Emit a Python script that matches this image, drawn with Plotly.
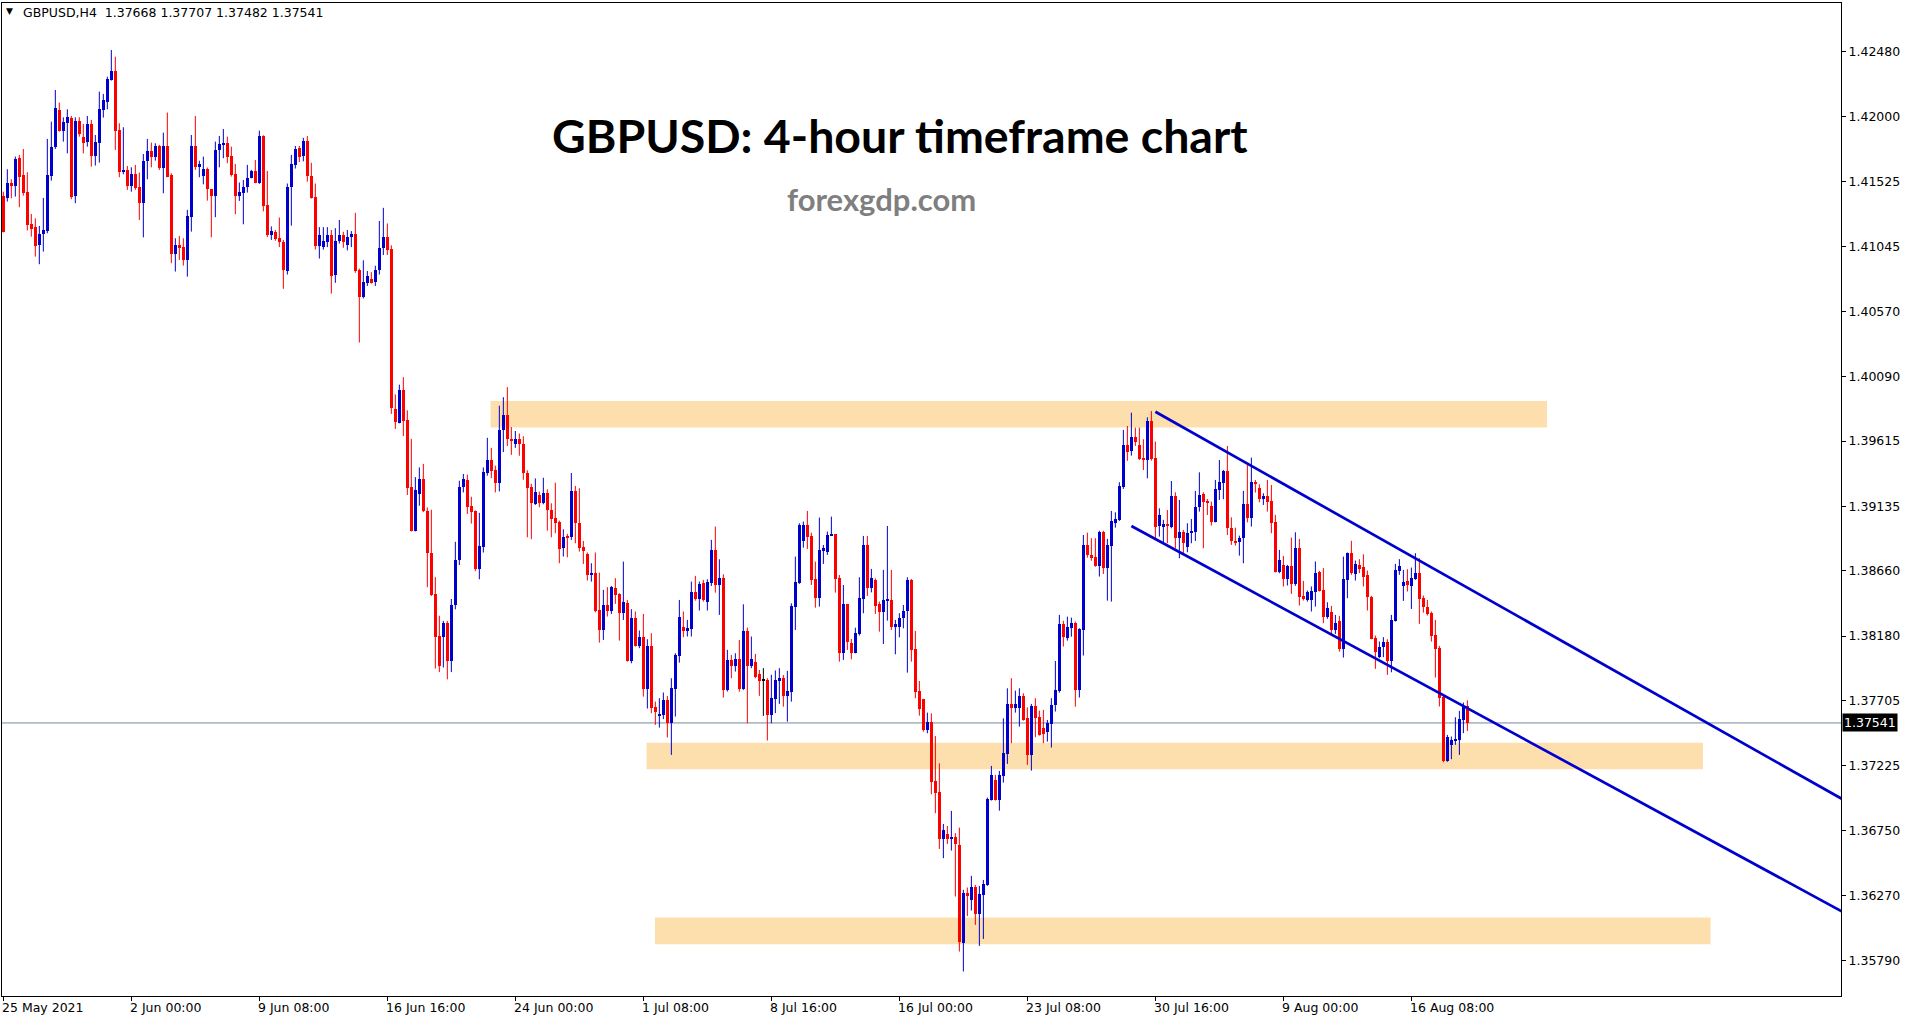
import plotly.graph_objects as go

# ---------------- data (4-hour GBPUSD candles, bar index 0..366) ----------------
OPEN = [
1.41419,1.41401,1.41512,1.41495,1.41696,1.41573,1.41445,1.41213,1.41188,1.41061,
1.41137,1.41164,1.41568,1.41777,1.42051,1.41899,1.41958,1.41990,1.41421,1.41970,
1.41850,1.41818,1.41948,1.41715,1.41811,1.42051,1.42112,1.42272,1.42336,1.41904,
1.41598,1.41610,1.41495,1.41580,1.41487,1.41365,1.41676,1.41750,1.41708,1.41786,
1.41622,1.41786,1.41573,1.40989,1.41058,1.41043,1.40948,1.41267,1.41786,1.41634,
1.41568,1.41617,1.41470,1.41421,1.41757,1.41794,1.41806,1.41713,1.41580,1.41421,
1.41443,1.41482,1.41553,1.41602,1.41512,1.41859,1.41352,1.41134,1.41155,1.41110,
1.41081,1.40866,1.41484,1.41647,1.41773,1.41715,1.41825,1.41568,1.41410,1.41050,
1.41042,1.41076,1.41134,1.40840,1.41089,1.41134,1.41058,1.41116,1.41139,1.40874,
1.40677,1.40779,1.40808,1.40782,1.40871,1.41032,1.41116,1.41029,1.39854,1.39749,
1.39991,1.39770,1.39276,1.38955,1.39229,1.39336,1.39100,1.38795,1.38493,1.38180,
1.38177,1.38277,1.37996,1.38409,1.38737,1.39276,1.39329,1.39137,1.39100,1.38672,
1.38837,1.39381,1.39473,1.39402,1.39310,1.39697,1.39807,1.39631,1.39597,1.39631,
1.39597,1.39380,1.39280,1.39153,1.39219,1.39157,1.39231,1.39108,1.39047,1.39023,
1.38831,1.38912,1.38907,1.39248,1.39015,1.38839,1.38785,1.38630,1.38647,1.38373,
1.38226,1.38410,1.38361,1.38537,1.38490,1.38348,1.38422,1.37998,1.38316,1.38110,
1.38177,1.37792,1.38110,1.37657,1.37600,1.37600,1.37711,1.37539,1.37792,1.38037,
1.38250,1.38221,1.38233,1.38505,1.38454,1.38569,1.38434,1.38574,1.38814,1.38557,
1.38611,1.37784,1.38005,1.37963,1.38012,1.37792,1.38218,1.37963,1.37988,1.37902,
1.37858,1.37858,1.37600,1.37718,1.37853,1.37875,1.37742,1.37767,1.38397,1.38568,
1.38882,1.38998,1.38917,1.38600,1.38463,1.38809,1.38801,1.38919,1.38931,1.38605,
1.38058,1.38416,1.38132,1.38058,1.38196,1.38453,1.38850,1.38537,1.38593,1.38416,
1.38355,1.38441,1.38446,1.38250,1.38245,1.38311,1.38365,1.38593,1.38083,1.37776,
1.37718,1.37490,1.37546,1.37115,1.37034,1.36688,1.36725,1.36685,1.36705,1.36644,
1.35925,1.36288,1.36239,1.36332,1.36136,1.36276,1.36350,1.36975,1.37122,1.36975,
1.37151,1.37313,1.37681,1.37649,1.37649,1.37740,1.37575,1.37306,1.37666,1.37583,
1.37507,1.37473,1.37532,1.37674,1.37777,1.38270,1.38164,1.38243,1.38274,1.37784,
1.38226,1.38851,1.38777,1.38760,1.38699,1.38949,1.38679,1.38846,1.39015,1.39035,
1.39280,1.39586,1.39542,1.39648,1.39586,1.39493,1.39476,1.39765,1.39493,1.38990,
1.38981,1.39005,1.38986,1.39211,1.38900,1.38949,1.38838,1.38936,1.38949,1.39128,
1.39226,1.39177,1.39138,1.39022,1.39256,1.39310,1.39395,1.38978,1.38875,1.38870,
1.38900,1.39152,1.39047,1.39312,1.39267,1.39187,1.39212,1.39175,1.39020,1.38655,
1.38704,1.38601,1.38699,1.38562,1.38831,1.38476,1.38442,1.38442,1.38508,1.38648,
1.38520,1.38317,1.38358,1.38226,1.38292,1.38086,1.38594,1.38790,1.38638,1.38704,
1.38692,1.38626,1.38471,1.38165,1.38025,1.38098,1.38140,1.37998,1.38294,1.38662,
1.38545,1.38586,1.38550,1.38601,1.38643,1.38459,1.38397,1.38353,1.38189,1.38096,
1.37735,1.37262,1.37380,1.37405,1.37417,1.37564,1.37668]

HIGH = [
1.41450,1.41615,1.41541,1.41708,1.41720,1.41764,1.41593,1.41286,1.41254,1.41198,
1.41404,1.41838,1.41965,1.42198,1.42105,1.41997,1.42056,1.42007,1.41997,1.41997,
1.41948,1.42007,1.41978,1.41867,1.42186,1.42169,1.42296,1.42492,1.42443,1.41953,
1.41924,1.41639,1.41629,1.41647,1.41590,1.41727,1.41838,1.41811,1.41806,1.41794,
1.41884,1.42032,1.41585,1.41107,1.41124,1.41107,1.41316,1.41867,1.42007,1.41678,
1.41708,1.41627,1.41470,1.41818,1.41860,1.41911,1.41855,1.41781,1.41654,1.41517,
1.41536,1.41647,1.41610,1.41683,1.41899,1.41865,1.41602,1.41194,1.41168,1.41260,
1.41095,1.41510,1.41720,1.41786,1.41786,1.41846,1.41859,1.41662,1.41510,1.41189,
1.41189,1.41189,1.41168,1.41181,1.41242,1.41155,1.41168,1.41160,1.41294,1.40884,
1.40945,1.40866,1.40858,1.40905,1.41234,1.41331,1.41216,1.41055,1.39959,1.40030,
1.40085,1.39841,1.39631,1.39350,1.39421,1.39447,1.39126,1.39110,1.38614,1.38330,
1.38291,1.38291,1.38453,1.38874,1.39323,1.39373,1.39368,1.39205,1.39105,1.39087,
1.39421,1.39639,1.39565,1.39434,1.39875,1.39938,1.40012,1.39718,1.39689,1.39670,
1.39650,1.39400,1.39300,1.39340,1.39243,1.39345,1.39260,1.39157,1.39309,1.39030,
1.38966,1.38932,1.39380,1.39285,1.39268,1.38880,1.38795,1.38716,1.38795,1.38647,
1.38520,1.38540,1.38549,1.38606,1.38495,1.38728,1.38446,1.38378,1.38361,1.38221,
1.38343,1.38157,1.38201,1.37698,1.37723,1.37765,1.37740,1.37870,1.38054,1.38446,
1.38361,1.38299,1.38581,1.38623,1.38581,1.38593,1.38598,1.38888,1.38986,1.38745,
1.38635,1.38079,1.38042,1.38054,1.38152,1.38414,1.38243,1.38177,1.38049,1.37931,
1.37944,1.37870,1.37895,1.37927,1.37944,1.37894,1.37924,1.38421,1.38765,1.39010,
1.39022,1.39101,1.38941,1.38728,1.39052,1.38850,1.38949,1.39059,1.38931,1.38630,
1.38556,1.38416,1.38159,1.38242,1.38613,1.38917,1.38917,1.38674,1.38605,1.38434,
1.38667,1.38990,1.38667,1.38299,1.38348,1.38409,1.38613,1.38600,1.38218,1.37850,
1.37718,1.37617,1.37612,1.37445,1.37244,1.36798,1.36783,1.36894,1.36730,1.36771,
1.36313,1.36330,1.36416,1.36349,1.36342,1.36386,1.36992,1.37225,1.37159,1.37188,
1.37575,1.37796,1.37870,1.37779,1.37796,1.37759,1.37656,1.37681,1.37723,1.37632,
1.37637,1.37563,1.37723,1.37997,1.38336,1.38292,1.38323,1.38316,1.38287,1.38238,
1.38924,1.38941,1.38900,1.38900,1.38955,1.38955,1.38895,1.39101,1.39091,1.39312,
1.39697,1.39726,1.39824,1.39714,1.39714,1.39628,1.39790,1.39836,1.39611,1.39120,
1.39035,1.39108,1.39321,1.39238,1.39182,1.38961,1.39010,1.39042,1.39248,1.39385,
1.39238,1.39189,1.39169,1.39329,1.39476,1.39402,1.39579,1.39054,1.38978,1.38919,
1.39248,1.39439,1.39493,1.39329,1.39297,1.39231,1.39329,1.39292,1.39072,1.38814,
1.38770,1.38704,1.38905,1.38944,1.38895,1.38586,1.38515,1.38545,1.38729,1.38660,
1.38680,1.38429,1.38402,1.38336,1.38329,1.38765,1.38795,1.38881,1.38736,1.38746,
1.38782,1.38662,1.38476,1.38184,1.38140,1.38172,1.38157,1.38336,1.38711,1.38746,
1.38667,1.38672,1.38684,1.38790,1.38753,1.38478,1.38446,1.38361,1.38299,1.38108,
1.37755,1.37453,1.37441,1.37583,1.37630,1.37691,1.37707]

LOW = [
1.41150,1.41377,1.41401,1.41414,1.41335,1.41421,1.41164,1.41119,1.40972,1.40916,
1.41009,1.41144,1.41531,1.41764,1.41892,1.41818,1.41732,1.41394,1.41365,1.41855,
1.41732,1.41781,1.41634,1.41642,1.41664,1.41995,1.42056,1.42267,1.41757,1.41556,
1.41578,1.41463,1.41450,1.41463,1.41242,1.41114,1.41541,1.41629,1.41678,1.41610,
1.41438,1.41556,1.40923,1.40862,1.40948,1.40906,1.40825,1.41156,1.41610,1.41556,
1.41504,1.41384,1.41114,1.41262,1.41629,1.41696,1.41659,1.41561,1.41284,1.41382,
1.41210,1.41443,1.41548,1.41512,1.41507,1.41305,1.41116,1.41095,1.41089,1.41042,
1.40735,1.40840,1.41200,1.41620,1.41668,1.41673,1.41523,1.41399,1.41024,1.40958,
1.41024,1.41042,1.40700,1.40779,1.41068,1.41037,1.41018,1.41042,1.40853,1.40340,
1.40664,1.40756,1.40774,1.40756,1.40840,1.40984,1.40984,1.39815,1.39704,1.39745,
1.39652,1.39218,1.38950,1.38950,1.39139,1.39092,1.38540,1.38475,1.37941,1.37915,
1.37949,1.37862,1.37915,1.38377,1.38703,1.39237,1.39079,1.39008,1.38658,1.38598,
1.38795,1.39360,1.39342,1.39237,1.39245,1.39534,1.39578,1.39513,1.39565,1.39507,
1.39330,1.38907,1.38893,1.39145,1.39128,1.39150,1.38956,1.38907,1.38937,1.38716,
1.38765,1.38760,1.38888,1.38863,1.38802,1.38711,1.38589,1.38581,1.38355,1.38132,
1.38152,1.38324,1.38343,1.38417,1.38147,1.38299,1.37993,1.37980,1.38103,1.38091,
1.37735,1.37647,1.37613,1.37527,1.37507,1.37569,1.37434,1.37306,1.37588,1.37985,
1.38172,1.38177,1.38177,1.38441,1.38368,1.38434,1.38368,1.38549,1.38500,1.38336,
1.37728,1.37772,1.37870,1.37919,1.37772,1.37784,1.37539,1.37944,1.37870,1.37740,
1.37593,1.37412,1.37539,1.37613,1.37681,1.37661,1.37551,1.37698,1.38225,1.38564,
1.38831,1.38821,1.38556,1.38389,1.38397,1.38711,1.38777,1.38917,1.38500,1.37992,
1.38005,1.38078,1.38009,1.38053,1.38184,1.38348,1.38475,1.38502,1.38343,1.38213,
1.38122,1.38294,1.38225,1.38046,1.38171,1.38237,1.37911,1.37992,1.37723,1.37595,
1.37477,1.37465,1.37016,1.36877,1.36614,1.36546,1.36651,1.36602,1.36264,1.35859,
1.35712,1.36121,1.36161,1.36055,1.35901,1.35952,1.36342,1.36970,1.36970,1.36896,
1.37102,1.37240,1.37392,1.37617,1.37514,1.37558,1.37232,1.37190,1.37436,1.37448,
1.37392,1.37404,1.37360,1.37625,1.37764,1.38103,1.38147,1.38176,1.37661,1.37728,
1.38037,1.38757,1.38735,1.38690,1.38618,1.38637,1.38441,1.38434,1.38978,1.39027,
1.39263,1.39469,1.39508,1.39579,1.39476,1.39402,1.39341,1.39471,1.38900,1.38912,
1.38863,1.38863,1.38973,1.38826,1.38753,1.38789,1.38797,1.38863,1.38880,1.39096,
1.38826,1.39071,1.38993,1.39017,1.39182,1.39187,1.38924,1.38851,1.38846,1.38772,
1.38716,1.39017,1.38986,1.39236,1.39165,1.39145,1.39096,1.38937,1.38648,1.38643,
1.38545,1.38552,1.38491,1.38550,1.38405,1.38442,1.38434,1.38361,1.38397,1.38508,
1.38275,1.38307,1.38196,1.38196,1.38066,1.38022,1.38459,1.38631,1.38589,1.38643,
1.38545,1.38368,1.38157,1.37939,1.38018,1.38025,1.37895,1.37914,1.38287,1.38631,
1.38439,1.38508,1.38380,1.38594,1.38270,1.38353,1.38331,1.38140,1.37875,1.37662,
1.37252,1.37255,1.37274,1.37380,1.37306,1.37466,1.37482]

CLOSE = [
1.41156,1.41512,1.41495,1.41691,1.41561,1.41443,1.41205,1.41176,1.41053,1.41139,
1.41168,1.41573,1.41777,1.42063,1.41899,1.41965,1.41997,1.41414,1.41970,1.41875,
1.41811,1.41948,1.41715,1.41813,1.42056,1.42125,1.42277,1.42336,1.41899,1.41598,
1.41610,1.41495,1.41580,1.41480,1.41365,1.41676,1.41750,1.41708,1.41786,1.41622,
1.41786,1.41561,1.40989,1.41058,1.41038,1.40948,1.41271,1.41786,1.41634,1.41654,
1.41617,1.41468,1.41421,1.41757,1.41801,1.41811,1.41708,1.41573,1.41421,1.41445,
1.41487,1.41553,1.41602,1.41517,1.41860,1.41347,1.41129,1.41160,1.41103,1.41076,
1.40874,1.41484,1.41654,1.41767,1.41707,1.41825,1.41562,1.41405,1.41050,1.41134,
1.41084,1.41134,1.40832,1.41089,1.41134,1.41081,1.41116,1.41139,1.40866,1.40677,
1.40787,1.40832,1.40779,1.40874,1.41037,1.41116,1.41024,1.39859,1.39754,1.39991,
1.39762,1.39271,1.38955,1.39255,1.39336,1.39097,1.38795,1.38482,1.38172,1.37962,
1.38277,1.37996,1.38409,1.38743,1.39276,1.39336,1.39132,1.39092,1.38672,1.38842,
1.39386,1.39473,1.39394,1.39310,1.39697,1.39807,1.39631,1.39618,1.39631,1.39597,
1.39380,1.39268,1.39157,1.39238,1.39157,1.39231,1.39108,1.39040,1.39015,1.38819,
1.38907,1.38905,1.39248,1.39015,1.38831,1.38809,1.38630,1.38647,1.38361,1.38226,
1.38410,1.38361,1.38540,1.38483,1.38348,1.38434,1.37998,1.38316,1.38110,1.38172,
1.37792,1.38110,1.37654,1.37625,1.37605,1.37711,1.37539,1.37797,1.38042,1.38324,
1.38221,1.38243,1.38505,1.38454,1.38564,1.38446,1.38579,1.38814,1.38557,1.38611,
1.37784,1.38005,1.37963,1.38012,1.37792,1.38218,1.37963,1.38012,1.37882,1.37850,
1.37858,1.37600,1.37723,1.37858,1.37870,1.37742,1.37776,1.38402,1.38576,1.38998,
1.38998,1.38912,1.38593,1.38463,1.38814,1.38826,1.38924,1.38931,1.38600,1.38058,
1.38416,1.38139,1.38058,1.38201,1.38463,1.38850,1.38537,1.38605,1.38404,1.38355,
1.38446,1.38446,1.38250,1.38269,1.38316,1.38365,1.38593,1.38078,1.37772,1.37642,
1.37490,1.37546,1.37110,1.37029,1.36688,1.36754,1.36685,1.36705,1.36649,1.35933,
1.36288,1.36269,1.36332,1.36136,1.36281,1.36357,1.36980,1.37159,1.36975,1.37159,
1.37318,1.37681,1.37649,1.37681,1.37740,1.37563,1.37306,1.37666,1.37575,1.37453,
1.37460,1.37539,1.37674,1.37784,1.38270,1.38171,1.38245,1.38274,1.37784,1.38233,
1.38851,1.38777,1.38757,1.38699,1.38949,1.38679,1.38851,1.39027,1.39042,1.39285,
1.39586,1.39537,1.39648,1.39611,1.39481,1.39476,1.39765,1.39483,1.38986,1.39071,
1.39005,1.38990,1.39211,1.38900,1.38949,1.38868,1.38941,1.38956,1.39133,1.39218,
1.39169,1.39157,1.39022,1.39263,1.39312,1.39395,1.38973,1.38883,1.38870,1.38900,
1.39152,1.39052,1.39312,1.39297,1.39187,1.39214,1.39170,1.39015,1.38655,1.38741,
1.38601,1.38699,1.38564,1.38831,1.38471,1.38451,1.38503,1.38513,1.38643,1.38513,
1.38317,1.38385,1.38226,1.38280,1.38086,1.38599,1.38790,1.38643,1.38709,1.38672,
1.38618,1.38466,1.38160,1.38062,1.38098,1.38140,1.37998,1.38299,1.38667,1.38697,
1.38576,1.38557,1.38606,1.38643,1.38451,1.38397,1.38341,1.38184,1.38086,1.37728,
1.37262,1.37436,1.37412,1.37424,1.37569,1.37669,1.37541]

X_TICK_IDX = [0, 32, 64, 96, 128, 160, 192, 224, 256, 288, 320, 352]
X_TICK_LABELS = ["25 May 2021", "2 Jun 00:00", "9 Jun 08:00", "16 Jun 16:00",
                 "24 Jun 00:00", "1 Jul 08:00", "8 Jul 16:00", "16 Jul 00:00",
                 "23 Jul 08:00", "30 Jul 16:00", "9 Aug 00:00", "16 Aug 08:00"]
Y_TICKS = [1.42480, 1.42000, 1.41525, 1.41045, 1.40570, 1.40090, 1.39615, 1.39135,
           1.38660, 1.38180, 1.37705, 1.37225, 1.36750, 1.36270, 1.35790]

# support / resistance zones (bar index start/end, price low/high)
ZONE_X0 = [121.8, 160.8, 162.9]
ZONE_X1 = [385.9, 424.9, 426.8]
ZONE_LO = [1.39714, 1.37200, 1.35913]
ZONE_HI = [1.39910, 1.37396, 1.36109]

# descending channel trend lines (two anchor points each: bar index, price)
UPPER_X = [288.0, 460.0]
UPPER_Y = [1.39831, 1.36976]
LOWER_X = [282.0, 460.0]
LOWER_Y = [1.38990, 1.36148]

BID = 1.37541
SYMBOL_INFO = "GBPUSD,H4  1.37668 1.37707 1.37482 1.37541"
TITLE = "GBPUSD: 4-hour timeframe chart"
SUBTITLE = "forexgdp.com"

# ---------------- styles ----------------
BULL = "#0000CD"
BEAR = "#FF0000"
DOJI = "#000000"
ZONE_COLOR = "rgb(253,223,174)"
LINE_COLOR = "#0000CD"
AXIS_FONT = dict(family="DejaVu Sans", size=12.5, color="black")

n = len(OPEN)
idx = list(range(n))

colors, base, height = [], [], []
for o, c in zip(OPEN, CLOSE):
    if c > o:
        colors.append(BULL)
    elif c < o:
        colors.append(BEAR)
    else:
        colors.append(DOJI)
    lo_b, hi_b = min(o, c), max(o, c)
    if hi_b - lo_b < 0.00007:
        mid = (hi_b + lo_b) / 2
        lo_b, hi_b = mid - 0.000035, mid + 0.000035
    base.append(lo_b)
    height.append(hi_b - lo_b)

fig = go.Figure()

# wicks
for col in (BULL, BEAR, DOJI):
    wx, wy = [], []
    for i in idx:
        if colors[i] != col:
            continue
        wx += [i, i, None]
        wy += [min(LOW[i], OPEN[i], CLOSE[i]), max(HIGH[i], OPEN[i], CLOSE[i]), None]
    if wx:
        fig.add_trace(go.Scatter(x=wx, y=wy, mode="lines",
                                 line=dict(color=col, width=1),
                                 hoverinfo="skip", showlegend=False))

# bodies
fig.add_trace(go.Bar(x=idx, y=height, base=base, width=0.75,
                     marker=dict(color=colors, line=dict(width=0)),
                     hoverinfo="skip", showlegend=False))

# trend lines
fig.add_trace(go.Scatter(x=UPPER_X, y=UPPER_Y, mode="lines",
                         line=dict(color=LINE_COLOR, width=2.7),
                         hoverinfo="skip", showlegend=False))
fig.add_trace(go.Scatter(x=LOWER_X, y=LOWER_Y, mode="lines",
                         line=dict(color=LINE_COLOR, width=2.7),
                         hoverinfo="skip", showlegend=False))

shapes = []
for x0, x1, lo, hi in zip(ZONE_X0, ZONE_X1, ZONE_LO, ZONE_HI):
    shapes.append(dict(type="rect", xref="x", yref="y", x0=x0, x1=x1, y0=lo, y1=hi,
                       fillcolor=ZONE_COLOR, line=dict(width=0), layer="below"))
shapes.append(dict(type="line", xref="paper", yref="y", x0=0, x1=1, y0=BID, y1=BID,
                   line=dict(color="#778899", width=1), layer="below"))

annotations = []
for ti, tl in zip(X_TICK_IDX, X_TICK_LABELS):
    annotations.append(dict(x=ti, xref="x", y=0, yref="paper", text=tl,
                            showarrow=False, xanchor="left", yanchor="top",
                            xshift=-3, yshift=-2, font=AXIS_FONT))
annotations.append(dict(x=1, xref="paper", y=BID, yref="y", text=f"{BID:.5f}",
                        showarrow=False, xanchor="left", yanchor="middle",
                        xshift=1, bgcolor="black", borderpad=1,
                        font=dict(family="DejaVu Sans", size=12.5, color="white")))
annotations.append(dict(x=0, xref="paper", y=1, yref="paper", text="▼",
                        showarrow=False, xanchor="left", yanchor="middle",
                        xshift=2, yshift=-8,
                        font=dict(family="DejaVu Sans", size=9, color="black")))
annotations.append(dict(x=0, xref="paper", y=1, yref="paper", text=SYMBOL_INFO,
                        showarrow=False, xanchor="left", yanchor="middle",
                        xshift=19, yshift=-9, font=AXIS_FONT))
annotations.append(dict(x=0.4883, xref="paper", y=0.8671, yref="paper", text=TITLE,
                        showarrow=False, xanchor="center", yanchor="middle",
                        font=dict(family="Lato", size=46.5, color="black", weight="bold")))
annotations.append(dict(x=0.478, xref="paper", y=0.8026, yref="paper", text=SUBTITLE,
                        showarrow=False, xanchor="center", yanchor="middle",
                        font=dict(family="Lato", size=31, color="#7F7F7F", weight="bold")))

fig.update_layout(
    width=1913, height=1023,
    margin=dict(l=2, r=72, t=3, b=27, pad=0),
    paper_bgcolor="white", plot_bgcolor="white",
    showlegend=False, bargap=0,
    shapes=shapes, annotations=annotations,
    xaxis=dict(range=[-0.33, 459.4], showgrid=False, zeroline=False,
               showline=True, linecolor="black", linewidth=1, mirror=True,
               ticks="outside", ticklen=4, tickcolor="black",
               tickvals=X_TICK_IDX, showticklabels=False, fixedrange=True),
    yaxis=dict(range=[1.35532, 1.42838], side="right", showgrid=False, zeroline=False,
               showline=True, linecolor="black", linewidth=1, mirror=True,
               ticks="outside", ticklen=4, tickcolor="black",
               tickvals=Y_TICKS, ticktext=[f"{v:.5f}" for v in Y_TICKS],
               tickfont=AXIS_FONT, fixedrange=True),
)

fig.write_html("out.html", config={"displayModeBar": False},
               post_script="document.body.style.margin='0';document.body.style.overflow='hidden';")
